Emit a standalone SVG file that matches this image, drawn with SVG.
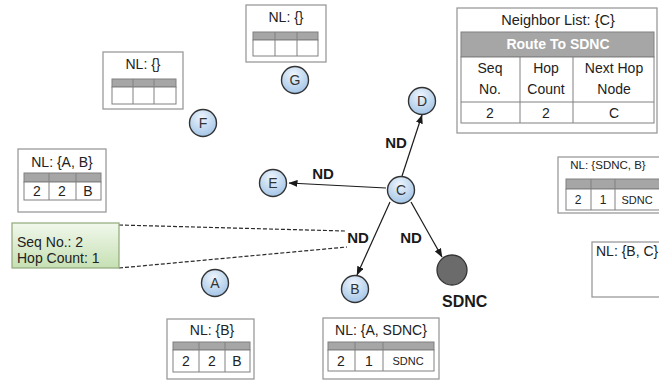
<svg xmlns="http://www.w3.org/2000/svg" width="659" height="381" viewBox="0 0 659 381">
<defs>
<radialGradient id="ng" cx="0.45" cy="0.3" r="0.75">
<stop offset="0" stop-color="#eef5fc"/>
<stop offset="1" stop-color="#9fc2e6"/>
</radialGradient>
<linearGradient id="gg" x1="0" y1="0" x2="0" y2="1">
<stop offset="0" stop-color="#f1f8ec"/>
<stop offset="1" stop-color="#c6e0b3"/>
</linearGradient>
<marker id="ah" markerWidth="9" markerHeight="7" refX="8.5" refY="3.5" orient="auto" markerUnits="userSpaceOnUse">
<path d="M0,0 L9,3.5 L0,7 z" fill="#1a1a1a"/>
</marker>
<style>
text { font-family: "Liberation Sans", Arial, sans-serif; fill: #222; }
.box { fill: #fff; stroke: #9a9a9a; stroke-width: 1.3; }
.hdr { fill: #a6a6a6; stroke: #808080; stroke-width: 1; }
.cell { fill: #fff; stroke: #808080; stroke-width: 1; }
.grid { stroke: #808080; stroke-width: 1; }
.ttl { font-size: 14px; text-anchor: middle; }
.val { font-size: 14px; text-anchor: middle; }
.sm { font-size: 11px; text-anchor: middle; }
.node circle { fill: url(#ng); stroke: #333; stroke-width: 1.4; }
.node text { font-size: 14px; text-anchor: middle; fill: #333; }
.arr { stroke: #1a1a1a; stroke-width: 1.2; fill: none; marker-end: url(#ah); }
.dash { stroke: #2a2a2a; stroke-width: 1.2; stroke-dasharray: 4 2; fill: none; }
.nd { font-size: 15px; font-weight: bold; text-anchor: middle; fill: #1a1a1a; }
</style>
</defs>
<rect width="659" height="381" fill="#fff"/>

<g id="connectors">
<line class="arr" x1="402" y1="176" x2="422" y2="115"/>
<line class="arr" x1="386" y1="188" x2="289" y2="183"/>
<line class="arr" x1="390" y1="202" x2="357" y2="275"/>
<line class="arr" x1="411" y1="202" x2="442" y2="257"/>
<line class="dash" x1="119" y1="225" x2="345" y2="231"/>
<line class="dash" x1="119" y1="268" x2="347" y2="247"/>
<text class="nd" x="396" y="148">ND</text>
<text class="nd" x="323" y="179">ND</text>
<text class="nd" x="411" y="243">ND</text>
<text class="nd" x="358" y="243">ND</text>
</g>

<g id="table-route">
<rect class="box" x="457" y="8" width="200" height="125"/>
<text x="558" y="25" style="font-size:14.5px;text-anchor:middle">Neighbor List: {C}</text>
<rect class="hdr" x="461" y="32" width="193" height="25"/>
<text x="558" y="49" style="font-size:14px;font-weight:bold;fill:#fff;text-anchor:middle">Route To SDNC</text>
<rect class="cell" x="461" y="57" width="193" height="66"/>
<line class="grid" x1="461" y1="102" x2="654" y2="102"/>
<line class="grid" x1="520" y1="57" x2="520" y2="123"/>
<line class="grid" x1="573" y1="57" x2="573" y2="123"/>
<text class="val" x="490" y="73">Seq</text>
<text class="val" x="490" y="94">No.</text>
<text class="val" x="546" y="73">Hop</text>
<text class="val" x="546" y="94">Count</text>
<text class="val" x="614" y="73">Next Hop</text>
<text class="val" x="614" y="94">Node</text>
<text class="val" x="490" y="118">2</text>
<text class="val" x="546" y="118">2</text>
<text class="val" x="614" y="118">C</text>
</g>

<g id="table-g">
<rect class="box" x="246" y="5" width="80" height="57"/>
<text class="ttl" x="286" y="22">NL: {}</text>
<rect class="hdr" x="253" y="32" width="65" height="8"/>
<rect class="cell" x="253" y="40" width="65" height="16"/>
<line class="grid" x1="275" y1="32" x2="275" y2="56"/>
<line class="grid" x1="297" y1="32" x2="297" y2="56"/>
</g>

<g id="table-f">
<rect class="box" x="103" y="52" width="80" height="57"/>
<text class="ttl" x="143" y="69">NL: {}</text>
<rect class="hdr" x="112" y="79" width="64" height="8"/>
<rect class="cell" x="112" y="87" width="64" height="17"/>
<line class="grid" x1="133" y1="79" x2="133" y2="104"/>
<line class="grid" x1="154" y1="79" x2="154" y2="104"/>
</g>

<g id="table-e">
<rect class="box" x="18" y="149" width="88" height="63"/>
<text class="ttl" x="62" y="167">NL: {A, B}</text>
<rect class="hdr" x="24" y="173" width="77" height="9"/>
<rect class="cell" x="24" y="182" width="77" height="18"/>
<line class="grid" x1="49" y1="173" x2="49" y2="200"/>
<line class="grid" x1="76" y1="173" x2="76" y2="200"/>
<text class="val" x="37" y="196">2</text>
<text class="val" x="62" y="196">2</text>
<text class="val" x="88" y="196">B</text>
</g>

<g id="table-a">
<rect class="box" x="167" y="319" width="87" height="60"/>
<text class="ttl" x="212" y="335">NL: {B}</text>
<rect class="hdr" x="173" y="342" width="77" height="8"/>
<rect class="cell" x="173" y="350" width="77" height="22"/>
<line class="grid" x1="199" y1="342" x2="199" y2="372"/>
<line class="grid" x1="225" y1="342" x2="225" y2="372"/>
<text class="val" x="186" y="366">2</text>
<text class="val" x="212" y="366">2</text>
<text class="val" x="237" y="366">B</text>
</g>

<g id="table-b">
<rect class="box" x="323" y="318" width="116" height="61"/>
<text class="ttl" x="381" y="335">NL: {A, SDNC}</text>
<rect class="hdr" x="328" y="342" width="106" height="8"/>
<rect class="cell" x="328" y="350" width="106" height="21"/>
<line class="grid" x1="355" y1="342" x2="355" y2="371"/>
<line class="grid" x1="383" y1="342" x2="383" y2="371"/>
<text class="val" x="341" y="366">2</text>
<text class="val" x="369" y="366">1</text>
<text class="sm" x="408" y="365">SDNC</text>
</g>

<g id="table-c-right">
<rect class="box" x="558" y="157" width="110" height="56"/>
<text x="608" y="169" style="font-size:11.5px;text-anchor:middle">NL: {SDNC, B}</text>
<rect class="hdr" x="566" y="179" width="100" height="10"/>
<rect class="cell" x="566" y="189" width="100" height="21"/>
<line class="grid" x1="591" y1="179" x2="591" y2="210"/>
<line class="grid" x1="615" y1="179" x2="615" y2="210"/>
<text x="578" y="204" style="font-size:12px;text-anchor:middle">2</text>
<text x="603" y="204" style="font-size:12px;text-anchor:middle">1</text>
<text class="sm" x="637" y="204">SDNC</text>
</g>

<g id="table-bc">
<rect class="box" x="592" y="242" width="80" height="55"/>
<text x="596" y="256" style="font-size:14px">NL: {B, C}</text>
</g>

<g id="packet">
<rect x="12" y="223" width="107" height="45" fill="url(#gg)" stroke="#8fa97a" stroke-width="1.2"/>
<text x="17" y="247" style="font-size:14px">Seq No.: 2</text>
<text x="17" y="263" style="font-size:14px">Hop Count: 1</text>
</g>

<g id="node-g" class="node"><circle cx="295" cy="80" r="13.5"/><text x="295" y="85">G</text></g>
<g id="node-f" class="node"><circle cx="203" cy="123" r="13.5"/><text x="203" y="128">F</text></g>
<g id="node-e" class="node"><circle cx="273" cy="183" r="13.5"/><text x="273" y="188">E</text></g>
<g id="node-c" class="node"><circle cx="401" cy="190" r="13.5"/><text x="401" y="195">C</text></g>
<g id="node-d" class="node"><circle cx="422" cy="101" r="13.5"/><text x="422" y="106">D</text></g>
<g id="node-b" class="node"><circle cx="355" cy="289" r="13.5"/><text x="355" y="294">B</text></g>
<g id="node-a" class="node"><circle cx="215" cy="283" r="13.5"/><text x="215" y="288">A</text></g>
<g id="node-sdnc">
<circle cx="452" cy="270" r="15" fill="#6b6b6b" stroke="#333" stroke-width="1.3"/>
<text x="442" y="307" style="font-size:16px;font-weight:bold;fill:#1a1a1a">SDNC</text>
</g>
</svg>
